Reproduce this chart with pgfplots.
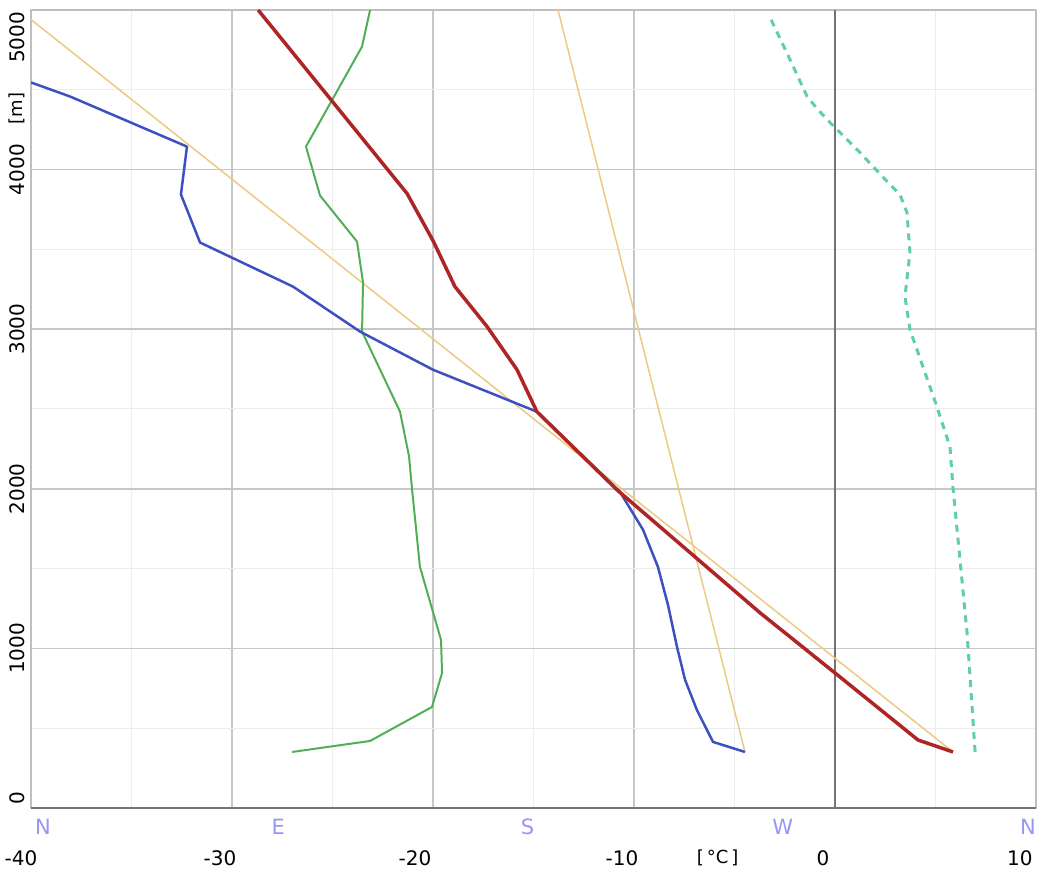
\documentclass[border=0pt]{standalone}
\usepackage{pgfplots}
\pgfplotsset{compat=1.18}
\usepackage{fontspec}
\setmainfont{DejaVu Sans}
\definecolor{cred}{RGB}{175,36,36}
\definecolor{cblue}{RGB}{62,80,192}
\definecolor{cgreen}{RGB}{80,175,85}
\definecolor{cyellow}{RGB}{236,202,130}
\definecolor{cteal}{RGB}{95,205,175}
\definecolor{ccomp}{RGB}{150,150,250}
\newcommand{\degsym}{\symbol{176}}
\tikzset{
  comp/.style={font=\fontsize{10.5}{12}\selectfont, text=ccomp, inner sep=0pt, anchor=center, yshift=-9.5pt},
  xnum/.style={font=\fontsize{10}{12}\selectfont, inner sep=0pt, anchor=center, yshift=-25pt},
  ynum/.style={font=\fontsize{10}{12}\selectfont, inner sep=0pt, anchor=center, rotate=90, yshift=7pt},
}
\begin{document}
\begin{tikzpicture}
\begin{axis}[
  name=ax,
  scale only axis,
  width=502.5pt, height=399pt,
  xmin=-40, xmax=10, ymin=0, ymax=5000,
  xtick={-40,-30,...,10}, ytick={0,1000,...,5000},
  minor x tick num=1, minor y tick num=1,
  xticklabels={}, yticklabels={},
  major tick length=0pt, minor tick length=0pt,
  grid=both,
  major grid style={color=black!22, line width=0.75pt},
  minor grid style={color=black!7, line width=0.5pt},
  extra x ticks={0}, extra x tick labels={},
  extra x tick style={grid=major, major grid style={color=black!55, line width=0.75pt}},
  axis line style={color=black!25, line width=0.75pt},
  clip mode=individual,
  line join=round,
]
% dry adiabat
\addplot[cyellow, line width=0.75pt] coordinates {(5.87,351) (-40,4940)};
% second guide line
\addplot[cyellow, line width=0.75pt] coordinates {(-4.48,351) (-13.78,5000)};
% dashed teal
\addplot[cteal, line width=1.5pt, dash pattern=on 3.5pt off 3pt] coordinates {
(6.97,351) (6.57,1097) (6.22,1555) (5.87,2006) (5.72,2263) (5.07,2514)
(3.73,2997) (3.48,3204) (3.73,3480) (3.58,3731) (3.23,3844) (2.64,3919)
(1.24,4107) (-0.15,4282) (-0.85,4376) (-1.39,4458) (-2.24,4690) (-3.23,4953)};
% green
\addplot[cgreen, line width=1pt] coordinates {
(-27.01,351) (-23.13,420) (-20.05,633) (-19.55,846) (-19.60,1053) (-20.65,1511)
(-21.04,1994) (-21.19,2201) (-21.64,2483) (-23.53,2985) (-23.48,3292) (-23.78,3549)
(-25.62,3837) (-26.32,4144) (-23.53,4771) (-23.13,5000)};
% blue
\addplot[cblue, line width=1.25pt] coordinates {
(-4.48,351) (-6.07,414) (-6.87,614) (-7.46,803) (-7.86,1009) (-8.31,1273)
(-8.81,1511) (-9.55,1743) (-10.70,1981) (-14.83,2483) (-20.0,2746) (-23.63,2985)
(-26.97,3267) (-31.59,3543) (-32.54,3844) (-32.24,4144) (-38.06,4458) (-40,4546)};
% red
\addplot[cred, line width=1.75pt] coordinates {
(5.87,351) (4.13,426) (0,846) (-3.73,1223) (-10.85,1994) (-14.83,2483)
(-15.82,2746) (-17.31,3016) (-18.91,3267) (-20.0,3555) (-21.29,3850) (-28.7,5000)};
% darker bottom axis line
\draw[black!55, line width=1pt] (rel axis cs:0,0) -- (rel axis cs:1,0);
% compass letters
\node[comp] at (axis cs:-39.4,0) {N};
\node[comp] at (axis cs:-27.7,0) {E};
\node[comp] at (axis cs:-15.3,0) {S};
\node[comp] at (axis cs:-2.6,0) {W};
\node[comp] at (axis cs:9.6,0) {N};
% x tick numbers
\node[xnum] at (axis cs:-40.5,0) {-40};
\node[xnum] at (axis cs:-30.6,0) {-30};
\node[xnum] at (axis cs:-20.9,0) {-20};
\node[xnum] at (axis cs:-10.6,0) {-10};
\node[xnum] at (axis cs:-0.6,0) {0};
\node[xnum] at (axis cs:9.2,0) {10};
\node[xnum, font=\fontsize{9}{12}\selectfont] at (axis cs:-5.84,0) {[\,\degsym C\,]};
% y tick numbers
\node[ynum] at (axis cs:-40,63) {0};
\node[ynum] at (axis cs:-40,1000) {1000};
\node[ynum] at (axis cs:-40,2000) {2000};
\node[ynum] at (axis cs:-40,3000) {3000};
\node[ynum] at (axis cs:-40,4000) {4000};
\node[ynum] at (axis cs:-40,4828) {5000};
\node[ynum, font=\fontsize{9}{12}\selectfont] at (axis cs:-40,4383) {[m]};
\end{axis}
\path ([xshift=-15.5pt,yshift=-33pt]ax.south west) rectangle ([xshift=11pt,yshift=5pt]ax.north east);
\end{tikzpicture}
\end{document}
